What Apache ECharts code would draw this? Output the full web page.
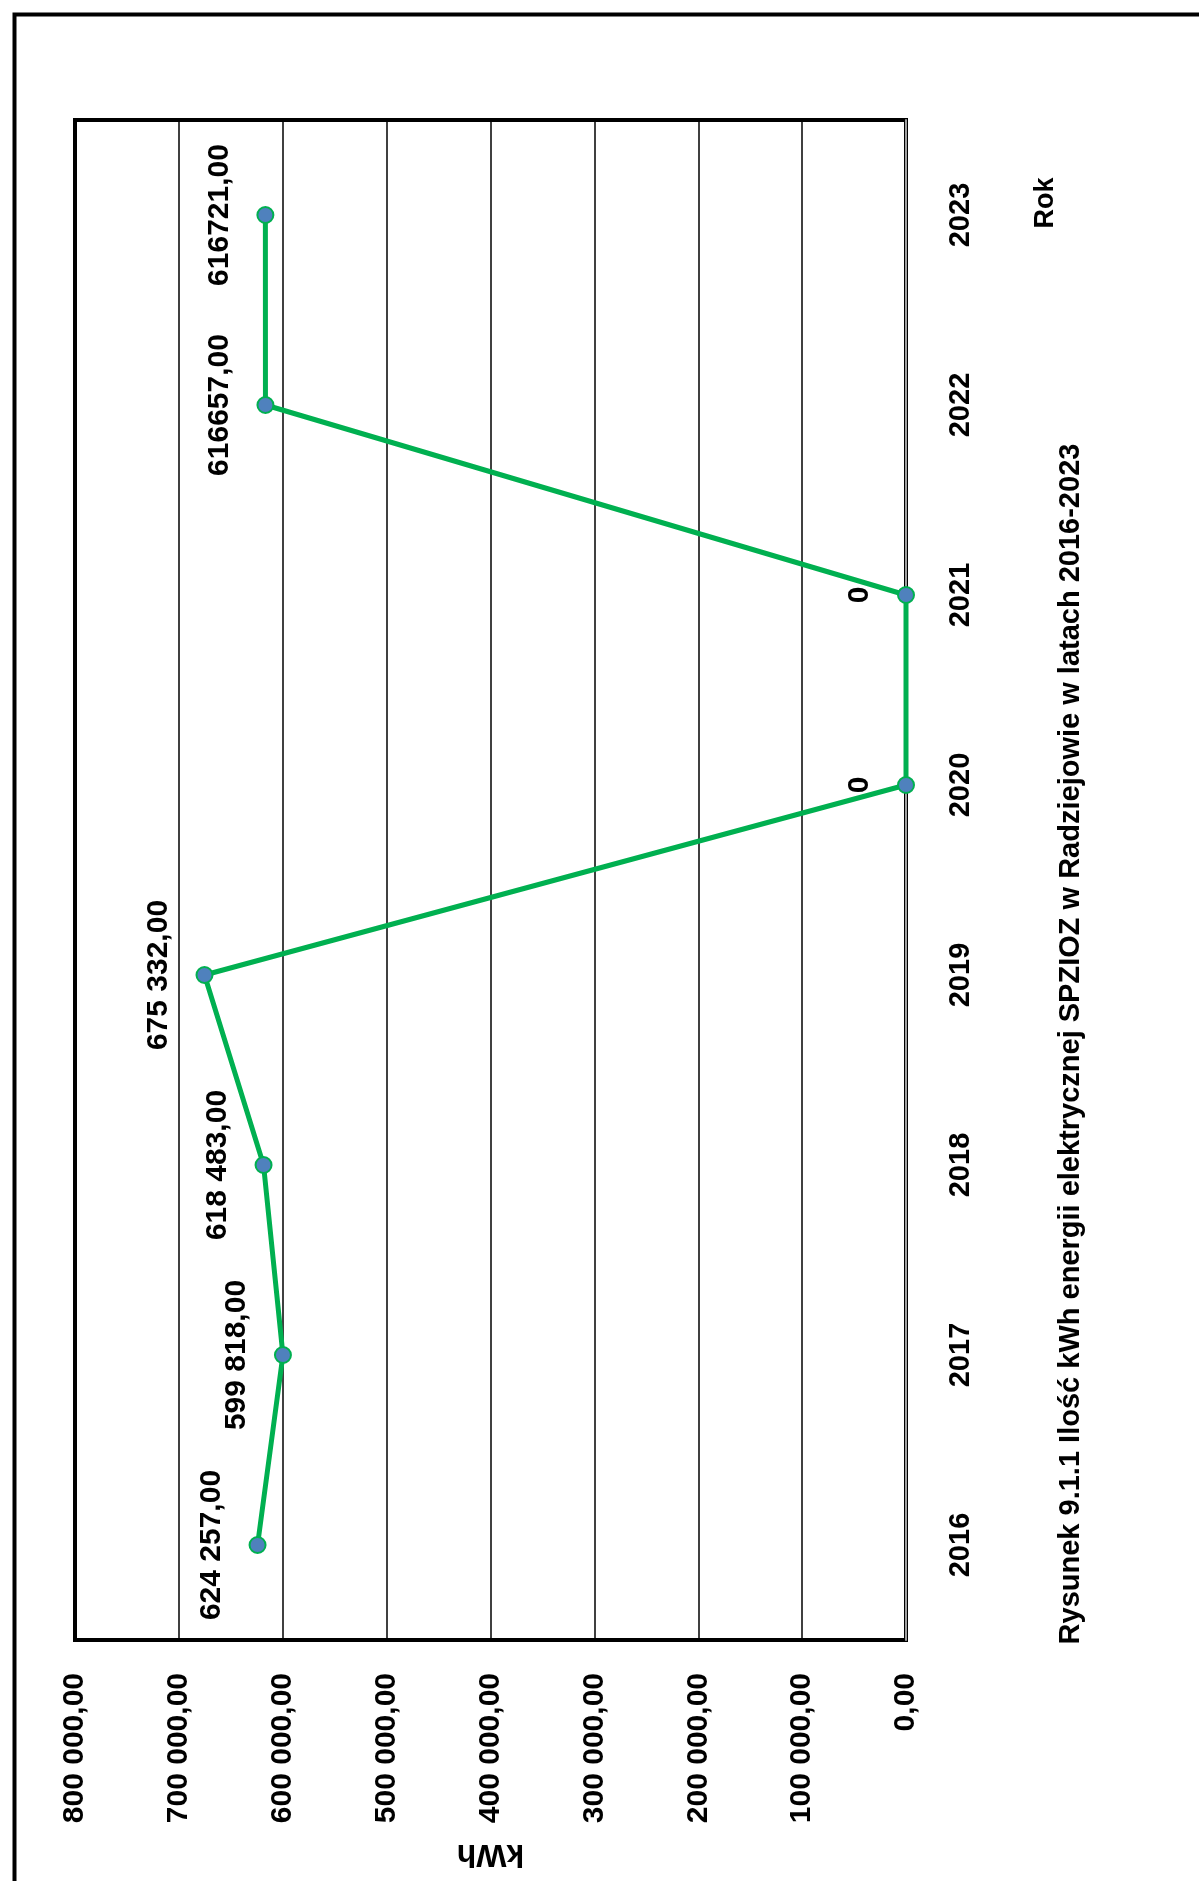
<!DOCTYPE html>
<html>
<head>
<meta charset="utf-8">
<script src="https://cdn.jsdelivr.net/npm/echarts@6/dist/echarts.min.js"></script>
<style>
html,body{margin:0;padding:0;background:#fff;}
#chart{width:1199px;height:1881px;}
</style>
</head>
<body>
<div id="chart"></div>
<script>
var years = ['2016','2017','2018','2019','2020','2021','2022','2023'];
var energyKWh = [624257, 599818, 618483, 675332, 0, 0, 616657, 616721];
var valueLabels = ['624 257,00','599 818,00','618 483,00','675 332,00','0','0','616657,00','616721,00'];
var axisMin = 0, axisMax = 800000, axisStep = 100000;
var titleText = 'Rysunek 9.1.1 Ilość kWh energii elektrycznej SPZIOZ w Radziejowie w latach 2016-2023';
var valueAxisName = 'kWh';
var categoryAxisName = 'Rok';

var FONT = '"Liberation Sans", Arial, sans-serif';

function fmtTick(v){
  var s = Math.round(v).toString();
  s = s.replace(/\B(?=(\d{3})+(?!\d))/g, ' ');
  return s + ',00';
}

var chart = echarts.init(document.getElementById('chart'), null, {renderer:'canvas'});
chart.setOption({
  backgroundColor:'#ffffff',
  animation:false,
  grid:{left:75, right:293, top:120, bottom:241, show:true, borderColor:'#000', borderWidth:4, backgroundColor:'transparent'},
  xAxis:{
    type:'value', inverse:true, min:axisMin, max:axisMax, interval:axisStep, position:'bottom',
    axisLine:{show:false}, axisTick:{show:false},
    splitLine:{show:true, lineStyle:{color:'#000', width:1.5}},
    axisLabel:{rotate:90, margin:33, formatter:fmtTick, color:'#000', fontFamily:FONT, fontSize:30, fontWeight:'bold'},
    name:valueAxisName, nameLocation:'middle', nameGap:198, nameRotate:180,
    nameTextStyle:{color:'#000', fontFamily:FONT, fontSize:32, fontWeight:'bold'}
  },
  yAxis:{
    type:'category', data:years, position:'right', boundaryGap:true,
    axisLine:{show:true, lineStyle:{color:'#a0a0a0', width:2}},
    axisTick:{show:false},
    splitLine:{show:false},
    axisLabel:{rotate:90, margin:40, color:'#000', fontFamily:FONT, fontSize:29, fontWeight:'bold'}
  },
  graphic:[
    {type:'rect', left:12, top:12, shape:{x:0,y:0,width:1400,height:2100}, style:{fill:'none', stroke:'#000', lineWidth:4}, silent:true},
    {type:'text', x:1071, y:1044, rotation:Math.PI/2, style:{text:titleText, fill:'#000', font:'bold 29px '+FONT, textAlign:'center', textVerticalAlign:'middle'}},
    {type:'text', x:1046, y:203, rotation:Math.PI/2, style:{text:categoryAxisName, fill:'#000', font:'bold 27px '+FONT, textAlign:'center', textVerticalAlign:'middle'}}
  ],
  series:[{
    type:'line', data:energyKWh,
    lineStyle:{color:'#00B050', width:5},
    symbol:'circle', symbolSize:16,
    itemStyle:{color:'#4F81BD', borderColor:'#00B050', borderWidth:2},
    label:{show:true, position:'left', distance:22, rotate:90, align:'center', verticalAlign:'bottom',
      formatter:function(p){return valueLabels[p.dataIndex];},
      color:'#000', fontFamily:FONT, fontSize:30, fontWeight:'bold'}
  }]
});
</script>
</body>
</html>
